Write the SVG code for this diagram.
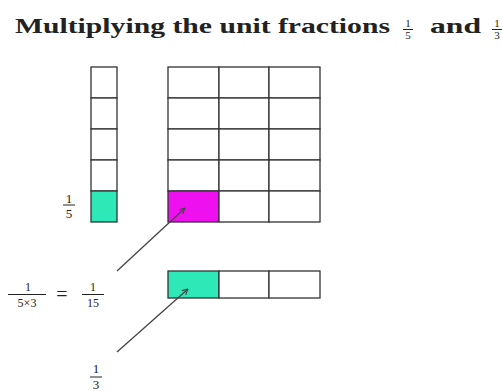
<svg xmlns="http://www.w3.org/2000/svg" width="502" height="391" viewBox="0 0 502 391">
<defs>
<style>
.t{font-family:"Liberation Serif","DejaVu Serif",serif;fill:#222}
.title{font-size:21px;font-weight:bold}
.f{font-size:13px;text-anchor:middle}
.s{font-size:12px}
.fs{font-size:11px;text-anchor:middle}
.eq{font-size:20px;text-anchor:middle}
.bar{stroke:#222;stroke-width:1}
.cell{stroke:#333;stroke-width:1.3;fill:#fff}
.cy{fill:#2ee8b8}
.mg{fill:#ee10ee}
.con{stroke:#444;stroke-width:1.3;fill:none}
</style>
<marker id="ah" viewBox="0 0 10 10" refX="9" refY="5" markerWidth="7" markerHeight="7" orient="auto" markerUnits="userSpaceOnUse">
<path d="M1,1 L9,5 L1,9" fill="none" stroke="#444" stroke-width="1.5"/>
</marker>
</defs>
<rect width="502" height="391" fill="#fff"/>
<g id="title">
<text class="t title" x="15" y="33" textLength="375" lengthAdjust="spacingAndGlyphs">Multiplying the unit fractions</text>
<text class="t fs" x="408" y="27">1</text>
<line class="bar" x1="403" y1="29.5" x2="413" y2="29.5"/>
<text class="t fs" x="408" y="38.5">5</text>
<text class="t title" x="430" y="33" textLength="51" lengthAdjust="spacingAndGlyphs">and</text>
<text class="t fs" x="497" y="27">1</text>
<line class="bar" x1="492" y1="29.5" x2="502" y2="29.5"/>
<text class="t fs" x="497" y="38.5">3</text>
</g>
<g id="column">
<rect class="cell" x="91" y="67" width="26" height="31"/>
<rect class="cell" x="91" y="98" width="26" height="31"/>
<rect class="cell" x="91" y="129" width="26" height="31"/>
<rect class="cell" x="91" y="160" width="26" height="31"/>
<rect class="cell cy" x="91" y="191" width="26" height="31"/>
</g>
<g id="grid">
<rect class="cell" x="168" y="67" width="51" height="31"/>
<rect class="cell" x="219" y="67" width="50" height="31"/>
<rect class="cell" x="269" y="67" width="51" height="31"/>
<rect class="cell" x="168" y="98" width="51" height="31"/>
<rect class="cell" x="219" y="98" width="50" height="31"/>
<rect class="cell" x="269" y="98" width="51" height="31"/>
<rect class="cell" x="168" y="129" width="51" height="31"/>
<rect class="cell" x="219" y="129" width="50" height="31"/>
<rect class="cell" x="269" y="129" width="51" height="31"/>
<rect class="cell" x="168" y="160" width="51" height="31"/>
<rect class="cell" x="219" y="160" width="50" height="31"/>
<rect class="cell" x="269" y="160" width="51" height="31"/>
<rect class="cell mg" x="168" y="191" width="51" height="31"/>
<rect class="cell" x="219" y="191" width="50" height="31"/>
<rect class="cell" x="269" y="191" width="51" height="31"/>
</g>
<g id="strip">
<rect class="cell cy" x="168" y="271" width="51" height="27"/>
<rect class="cell" x="219" y="271" width="50" height="27"/>
<rect class="cell" x="269" y="271" width="51" height="27"/>
</g>
<g id="label-fifth">
<text class="t f" x="69" y="203">1</text>
<line class="bar" x1="63" y1="205" x2="75" y2="205"/>
<text class="t f" x="69" y="218">5</text>
</g>
<g id="label-product">
<text class="t f s" x="28" y="291">1</text>
<line class="bar" x1="8" y1="294.5" x2="46" y2="294.5"/>
<text class="t f s" x="27" y="307">5×3</text>
<text class="t eq" x="62" y="301">=</text>
<text class="t f s" x="93" y="291">1</text>
<line class="bar" x1="82" y1="294.5" x2="104" y2="294.5"/>
<text class="t f s" x="93" y="307">15</text>
</g>
<g id="label-third">
<text class="t f" x="96" y="373">1</text>
<line class="bar" x1="90" y1="377" x2="102" y2="377"/>
<text class="t f" x="96" y="389">3</text>
</g>
<g id="connectors">
<line class="con" x1="117" y1="271" x2="185" y2="208" marker-end="url(#ah)"/>
<line class="con" x1="117" y1="352" x2="188" y2="289" marker-end="url(#ah)"/>
</g>
</svg>
